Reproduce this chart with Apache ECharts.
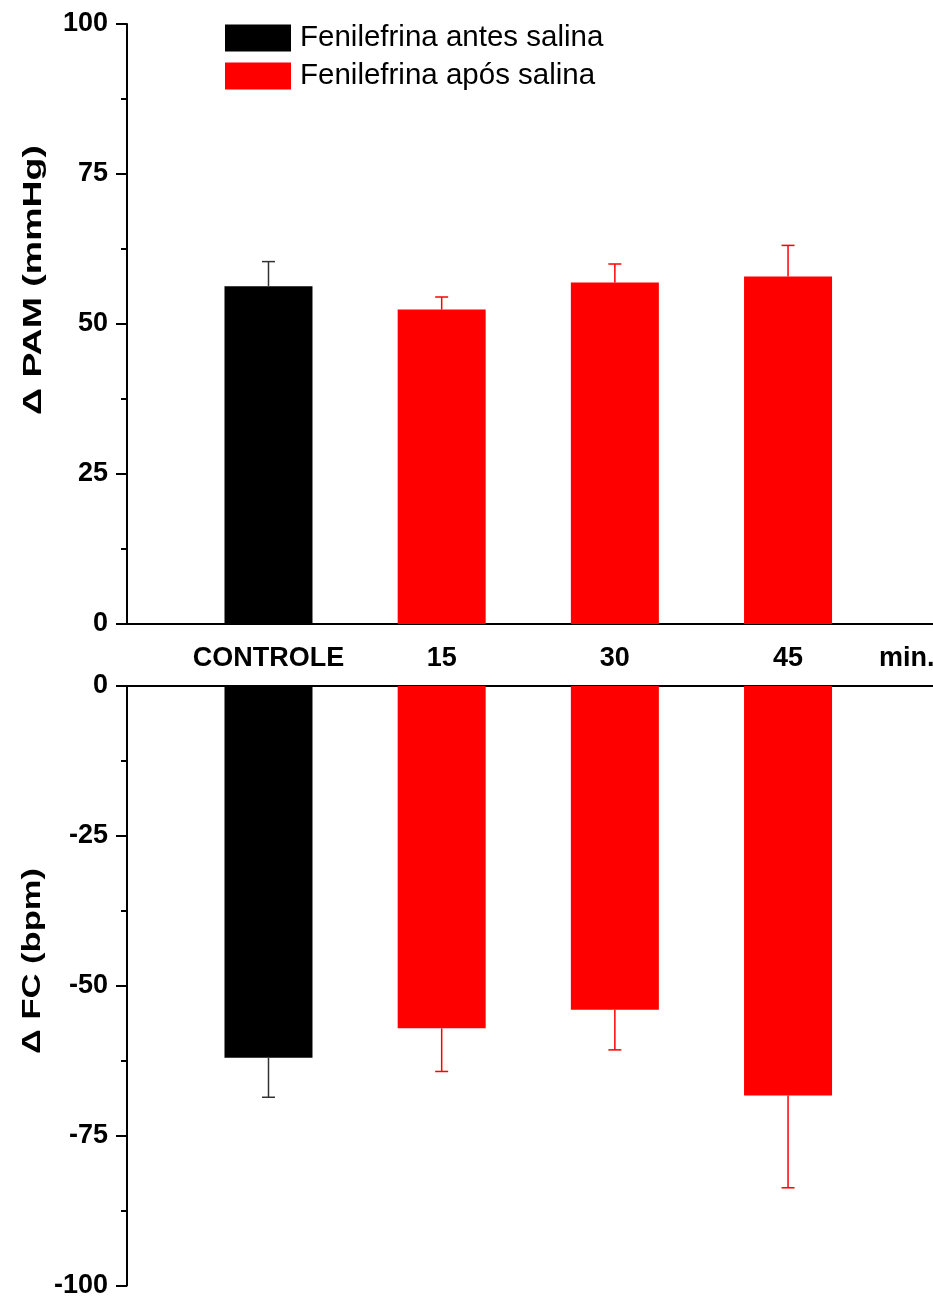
<!DOCTYPE html>
<html>
<head>
<meta charset="utf-8">
<script src="https://cdn.jsdelivr.net/npm/echarts@6/dist/echarts.min.js"></script>
<style>
html,body{margin:0;padding:0;background:#fff;}
#chart{width:933px;height:1299px;}
</style>
</head>
<body>
<div id="chart"></div>
<script>
// ---- data ----
const categories = ['CONTROLE', '15', '30', '45'];
const categoryPositions = [1, 2, 3, 4];
const seriesNames = ['Fenilefrina antes salina', 'Fenilefrina após salina'];
// Δ PAM (mmHg)
const pamMeans = [56.3, 52.4, 56.9, 57.9];
const pamErrors = [4.1, 2.1, 3.1, 5.2];
// Δ FC (bpm)
const fcMeans = [-62.0, -57.1, -54.0, -68.3];
const fcErrors = [6.6, 7.2, 6.7, 15.4];
const pamTicks = [0, 25, 50, 75, 100];
const fcTicks = [-100, -75, -50, -25, 0];
const unitLabel = 'min.';
const pamName = 'Δ PAM (mmHg)';
const fcName = 'Δ FC (bpm)';

// ---- styles ----
const FONT = "'Liberation Sans', Arial, sans-serif";
const BLACK = '#000000';
const RED = '#ff0000';

function pairs(idxs, vals) {
  return idxs.map(i => [categoryPositions[i], vals[i]]);
}
function errData(vals, errs) {
  return categoryPositions.map((x, i) => [x, vals[i], errs[i], i]);
}

function errorRender(params, api) {
  const x = api.value(0), v = api.value(1), e = api.value(2), ci = api.value(3);
  const sign = v >= 0 ? 1 : -1;
  const p0 = api.coord([x, v]);
  const p1 = api.coord([x, v + sign * e]);
  const half = 6.5;
  const col = ci === 0 ? '#333333' : RED;
  return {
    type: 'group',
    children: [
      { type: 'line', shape: { x1: p0[0], y1: p0[1], x2: p1[0], y2: p1[1] }, style: { stroke: col, lineWidth: 1.5 } },
      { type: 'line', shape: { x1: p1[0] - half, y1: p1[1], x2: p1[0] + half, y2: p1[1] }, style: { stroke: col, lineWidth: 1.5 } }
    ]
  };
}

const yAxisCommon = {
  type: 'value',
  interval: 25,
  axisLine: { show: true, onZero: false, lineStyle: { color: BLACK, width: 2 } },
  axisTick: { show: true, length: 11, lineStyle: { color: BLACK, width: 2 } },
  minorTick: { show: true, splitNumber: 2, length: 6, lineStyle: { color: BLACK, width: 2 } },
  splitLine: { show: false },
  axisLabel: { color: BLACK, fontSize: 27, fontWeight: 'bold', fontFamily: FONT, margin: 19 }
};

const xMin = 0.183, xMax = 4.837;

const option = {
  animation: false,
  backgroundColor: '#ffffff',
  textStyle: { fontFamily: FONT },
  grid: [
    { left: 127, right: 0, top: 24, height: 600 },
    { left: 127, right: 0, top: 686, height: 600 }
  ],
  legend: {
    data: seriesNames,
    orient: 'vertical',
    left: 225,
    top: 23,
    padding: 0,
    itemWidth: 66,
    itemHeight: 27,
    itemGap: 8,
    icon: 'rect',
    selectedMode: false,
    textStyle: { color: BLACK, fontSize: 29.5, fontFamily: FONT, padding: [2, 0, 0, 4] }
  },
  xAxis: [
    {
      gridIndex: 0, type: 'value', min: xMin, max: xMax, position: 'bottom',
      axisLine: { show: true, onZero: false, lineStyle: { color: BLACK, width: 2 } },
      axisTick: { show: false },
      splitLine: { show: false },
      axisLabel: {
        show: true,
        customValues: categoryPositions,
        formatter: v => categories[categoryPositions.indexOf(Math.round(v))] || '',
        color: BLACK, fontSize: 27, fontWeight: 'bold', fontFamily: FONT,
        margin: 21, lineHeight: 27
      }
    },
    {
      gridIndex: 1, type: 'value', min: xMin, max: xMax, position: 'top',
      axisLine: { show: true, onZero: false, lineStyle: { color: BLACK, width: 2 } },
      axisTick: { show: false },
      splitLine: { show: false },
      axisLabel: { show: false }
    }
  ],
  yAxis: [
    Object.assign({}, yAxisCommon, { gridIndex: 0, min: pamTicks[0], max: pamTicks[pamTicks.length - 1] }),
    Object.assign({}, yAxisCommon, { gridIndex: 1, min: fcTicks[0], max: fcTicks[fcTicks.length - 1] })
  ],
  series: [
    { name: seriesNames[0], type: 'bar', xAxisIndex: 0, yAxisIndex: 0, barWidth: 88, barGap: '-100%',
      itemStyle: { color: BLACK }, data: pairs([0], pamMeans), z: 2 },
    { name: seriesNames[1], type: 'bar', xAxisIndex: 0, yAxisIndex: 0, barWidth: 88, barGap: '-100%',
      itemStyle: { color: RED }, data: pairs([1, 2, 3], pamMeans), z: 2 },
    { name: seriesNames[0], type: 'bar', xAxisIndex: 1, yAxisIndex: 1, barWidth: 88, barGap: '-100%',
      itemStyle: { color: BLACK }, data: pairs([0], fcMeans), z: 2 },
    { name: seriesNames[1], type: 'bar', xAxisIndex: 1, yAxisIndex: 1, barWidth: 88, barGap: '-100%',
      itemStyle: { color: RED }, data: pairs([1, 2, 3], fcMeans), z: 2 },
    { type: 'custom', xAxisIndex: 0, yAxisIndex: 0, renderItem: errorRender, data: errData(pamMeans, pamErrors), z: 3, silent: true },
    { type: 'custom', xAxisIndex: 1, yAxisIndex: 1, renderItem: errorRender, data: errData(fcMeans, fcErrors), z: 3, silent: true }
  ],
  graphic: [
    { type: 'text', left: 879, top: 645, style: { text: unitLabel, fill: BLACK, font: "bold 27px " + FONT } },
    { type: 'text', x: 34, y: 280, rotation: Math.PI / 2, scaleX: 1.5,
      style: { text: pamName, fill: BLACK, font: "bold 25px " + FONT, align: 'center', verticalAlign: 'middle' } },
    { type: 'text', x: 33, y: 961, rotation: Math.PI / 2, scaleX: 1.38,
      style: { text: fcName, fill: BLACK, font: "bold 25px " + FONT, align: 'center', verticalAlign: 'middle' } }
  ]
};

const chart = echarts.init(document.getElementById('chart'), null, { renderer: 'canvas' });
chart.setOption(option);
</script>
</body>
</html>
